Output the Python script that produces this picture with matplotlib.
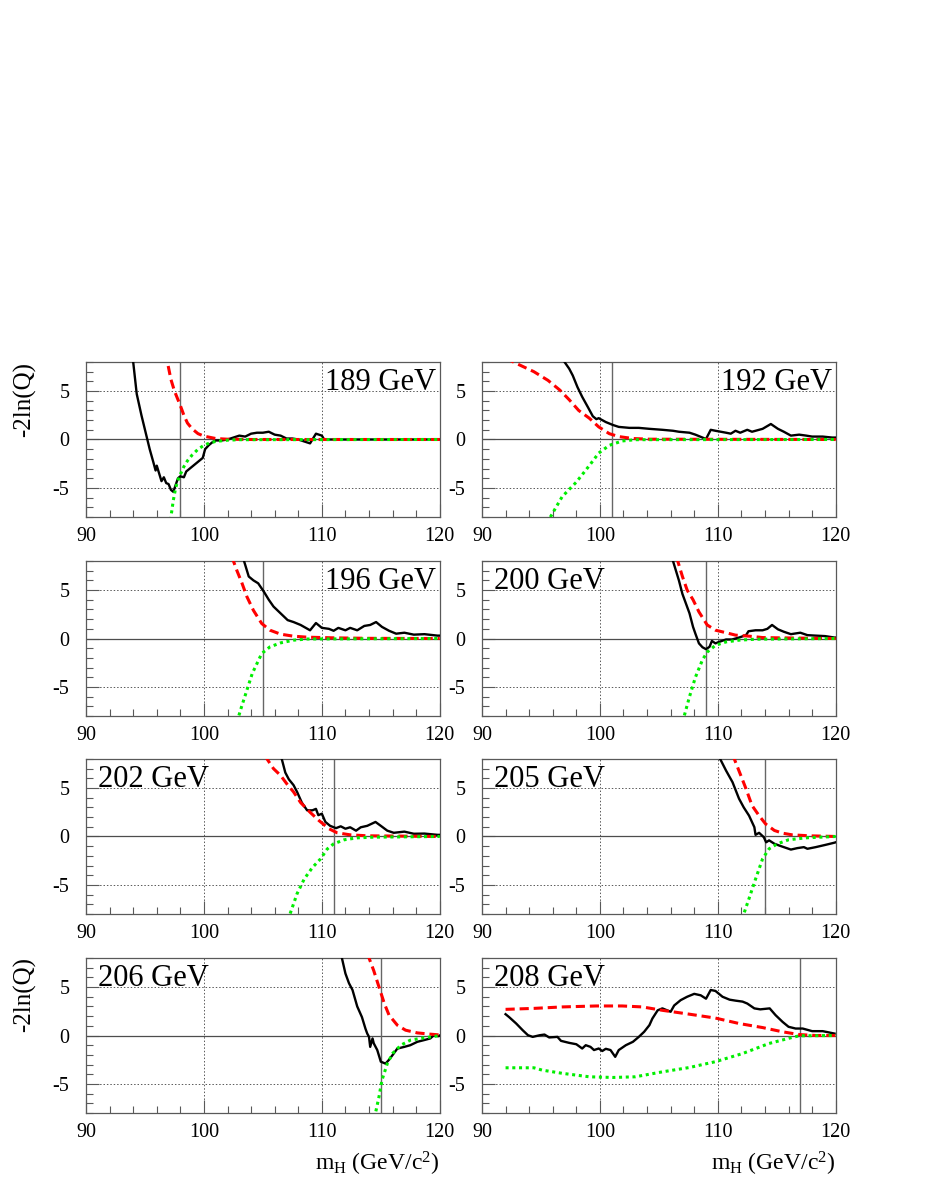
# %%
import numpy as np
import matplotlib.pyplot as plt
from matplotlib.ticker import MultipleLocator

# %%
# Data (mH in GeV, -2ln(Q))
# black = observed, red dashed = expected background, green dotted = expected signal+background

# 189 GeV
m_obs_189 = [93.9, 94.0, 94.3, 94.7, 95.0, 95.2, 95.4, 95.7, 95.9, 96.0, 96.2, 96.4, 96.6, 96.8, 97.0, 97.2,
             97.4, 97.6, 97.8, 98.0, 98.3, 98.5, 98.8, 99.2, 99.6, 99.9, 100.1, 100.4, 100.7, 101.0, 101.5,
             102.0, 102.5, 103.0, 103.5, 104.0, 104.5, 105.0, 105.5, 106.0, 106.5, 107.0, 107.5, 108.0,
             108.5, 109.0, 109.3, 109.5, 110.0, 110.2, 120.0]
q_obs_189 = [8.5, 8.0, 4.7, 2.5, 1.0, 0.0, -1.0, -2.3, -3.2, -2.7, -3.5, -4.3, -3.9, -4.5, -4.6, -5.2,
             -5.4, -4.7, -4.0, -3.8, -3.9, -3.3, -3.0, -2.6, -2.2, -1.9, -1.0, -0.6, -0.3, -0.1, -0.1,
             0.0, 0.2, 0.4, 0.3, 0.6, 0.7, 0.7, 0.8, 0.5, 0.4, 0.1, 0.1, 0.0,
             -0.2, -0.4, 0.2, 0.6, 0.4, 0.0, 0.0]
m_b_189 = [96.7, 96.9, 97.2, 97.5, 97.8, 98.0, 98.3, 98.6, 99.0, 99.5, 100.0, 101.0, 102.0, 104.0, 120.0]
q_b_189 = [9.0, 8.0, 6.2, 5.0, 4.1, 3.5, 2.5, 1.7, 1.1, 0.6, 0.35, 0.1, 0.03, 0.0, 0.0]
m_sb_189 = [97.1, 97.2, 97.4, 97.6, 97.8, 98.0, 98.3, 98.6, 99.0, 99.5, 100.0, 100.5, 101.0, 102.0, 103.0, 120.0]
q_sb_189 = [-9.0, -8.0, -6.3, -5.0, -4.2, -3.6, -2.8, -2.2, -1.6, -1.0, -0.6, -0.35, -0.2, -0.07, -0.02, 0.0]

# 192 GeV
m_obs_192 = [96.9, 97.0, 97.4, 97.7, 98.1, 98.5, 99.0, 99.4, 99.7, 99.9, 100.2, 100.5, 101.1, 101.6, 102.5,
             103.3, 104.2, 105.3, 106.2, 106.7, 107.6, 108.1, 108.7, 109.0, 109.4, 109.8, 110.7, 111.1,
             111.5, 111.9, 112.5, 112.9, 113.8, 114.5, 115.1, 115.6, 116.2, 116.9, 117.5, 118.0, 118.9,
             119.7, 120.0]
q_obs_192 = [8.5, 8.0, 7.3, 6.6, 5.4, 4.4, 3.3, 2.4, 2.1, 2.2, 2.0, 1.8, 1.5, 1.3, 1.2,
             1.2, 1.1, 1.0, 0.9, 0.8, 0.7, 0.5, 0.2, 0.05, 1.0, 0.9, 0.7, 0.6,
             0.9, 0.7, 1.0, 0.8, 1.1, 1.6, 1.1, 0.8, 0.4, 0.5, 0.4, 0.3, 0.3,
             0.2, 0.2]
m_b_192 = [92.0, 93.0, 94.4, 95.6, 96.6, 97.4, 98.2, 99.1, 99.9, 100.8, 101.6, 102.8, 104.2, 120.0]
q_b_192 = [8.4, 7.8, 7.0, 6.1, 5.1, 4.1, 3.0, 2.2, 1.3, 0.6, 0.3, 0.1, 0.03, 0.0]
m_sb_192 = [95.5, 95.8, 96.8, 98.0, 99.1, 99.9, 100.8, 101.9, 103.0, 120.0]
q_sb_192 = [-8.6, -8.0, -5.9, -4.4, -2.7, -1.4, -0.6, -0.15, -0.02, 0.0]

# 196 GeV
m_obs_196 = [103.3, 103.4, 103.65, 103.8, 104.2, 104.6, 105.1, 105.5, 105.9, 106.5, 107.1, 107.6, 108.2,
             109.0, 109.5, 110.0, 110.6, 111.0, 111.4, 112.0, 112.4, 113.0, 113.6, 114.1, 114.6, 115.1,
             115.7, 116.3, 117.0, 117.8, 118.7, 119.8, 120.0]
q_obs_196 = [8.5, 8.0, 7.0, 6.4, 6.0, 5.7, 4.8, 4.0, 3.3, 2.6, 1.9, 1.7, 1.4,
             0.85, 1.6, 1.1, 1.0, 0.8, 1.1, 0.85, 1.1, 0.85, 1.3, 1.4, 1.7, 1.2,
             0.8, 0.5, 0.6, 0.4, 0.45, 0.3, 0.3]
m_b_196 = [102.4, 102.5, 102.8, 103.2, 103.65, 104.2, 104.9, 105.6, 106.5, 107.6, 108.75, 111.0, 114.0, 120.0]
q_b_196 = [8.5, 8.0, 7.0, 5.8, 4.3, 2.9, 1.55, 0.86, 0.45, 0.24, 0.14, 0.07, 0.02, 0.0]
m_sb_196 = [102.8, 102.95, 103.2, 103.65, 104.1, 104.9, 105.6, 106.5, 107.6, 108.75, 120.0]
q_sb_196 = [-8.6, -8.0, -7.0, -5.3, -3.6, -1.55, -0.86, -0.45, -0.17, -0.05, 0.0]

# 200 GeV
m_obs_200 = [106.1, 106.2, 106.45, 106.7, 107.0, 107.3, 107.6, 107.9, 108.1, 108.4, 108.7, 109.0, 109.3,
             109.5, 109.8, 110.1, 110.7, 111.2, 111.8, 112.4, 112.6, 113.2, 113.8, 114.2, 114.6, 115.1,
             115.6, 116.2, 117.0, 117.6, 118.3, 119.1, 119.9, 120.0]
q_obs_200 = [8.5, 8.0, 7.0, 6.0, 4.6, 3.6, 2.6, 1.2, 0.5, -0.5, -0.9, -1.1, -0.85,
             -0.25, -0.5, -0.35, -0.1, -0.1, 0.1, 0.35, 0.75, 0.85, 0.85, 1.0, 1.4, 0.95,
             0.7, 0.45, 0.6, 0.35, 0.3, 0.25, 0.1, 0.1]
m_b_200 = [106.5, 106.6, 107.0, 107.4, 107.9, 108.4, 109.1, 109.8, 110.7, 111.5, 112.6, 113.8, 115.2, 120.0]
q_b_200 = [8.4, 8.0, 6.4, 5.0, 4.0, 2.75, 1.4, 0.86, 0.6, 0.35, 0.25, 0.1, 0.07, 0.0]
m_sb_200 = [107.0, 107.15, 107.6, 108.1, 108.7, 109.1, 109.8, 110.7, 111.8, 113.2, 120.0]
q_sb_200 = [-8.6, -8.0, -6.0, -4.0, -2.2, -1.4, -0.7, -0.35, -0.17, -0.07, 0.0]

# 202 GeV
m_obs_202 = [106.5, 106.6, 106.9, 107.2, 107.6, 107.9, 108.3, 108.75, 109.2, 109.5, 109.7, 110.0, 110.3,
             110.7, 111.2, 111.6, 112.0, 112.4, 112.9, 113.3, 113.85, 114.55, 115.0, 115.55, 116.1,
             117.0, 117.8, 118.7, 119.8, 120.0]
q_obs_202 = [8.5, 8.0, 6.6, 5.9, 5.3, 4.6, 3.5, 2.7, 2.7, 2.85, 2.2, 2.35, 1.5,
             1.1, 0.86, 1.05, 0.8, 0.95, 0.6, 0.95, 1.1, 1.5, 1.1, 0.6, 0.38,
             0.5, 0.28, 0.3, 0.17, 0.17]
m_b_202 = [105.2, 105.35, 105.9, 106.5, 107.05, 107.6, 108.2, 109.0, 109.75, 110.6, 111.3, 112.4, 113.85, 120.0]
q_b_202 = [8.4, 8.0, 7.0, 6.3, 5.4, 4.6, 3.5, 2.5, 1.65, 0.8, 0.38, 0.17, 0.07, 0.0]
m_sb_202 = [107.1, 107.3, 107.9, 108.5, 109.2, 109.9, 110.45, 111.0, 111.9, 113.0, 114.4, 120.0]
q_sb_202 = [-8.6, -8.0, -5.9, -4.4, -3.2, -2.3, -1.3, -0.76, -0.34, -0.14, -0.07, 0.0]

# 205 GeV
m_obs_205 = [110.1, 110.2, 110.7, 111.25, 111.8, 112.2, 112.65, 113.1, 113.2, 113.5, 113.9, 114.1, 114.35,
             114.8, 115.2, 115.6, 116.2, 116.75, 117.3, 117.6, 118.3, 119.15, 119.86, 120.0]
q_obs_205 = [8.5, 8.0, 6.8, 5.6, 3.9, 3.0, 2.15, 0.96, 0.17, 0.38, -0.07, -0.6, -0.4,
             -0.75, -0.93, -1.1, -1.35, -1.2, -1.1, -1.27, -1.1, -0.86, -0.65, -0.6]
m_b_205 = [111.3, 111.4, 111.95, 112.4, 112.9, 113.5, 114.05, 114.8, 115.5, 116.3, 117.75, 120.0]
q_b_205 = [8.5, 8.0, 6.3, 4.9, 3.2, 2.15, 1.3, 0.62, 0.34, 0.17, 0.07, 0.0]
m_sb_205 = [112.1, 112.2, 112.65, 113.2, 113.8, 114.35, 115.05, 116.0, 117.45, 120.0]
q_sb_205 = [-8.5, -8.0, -6.4, -4.4, -2.3, -1.27, -0.76, -0.34, -0.14, 0.0]

# 206 GeV
m_obs_206 = [111.6, 111.7, 112.0, 112.3, 112.6, 113.0, 113.4, 113.7, 113.85, 114.0, 114.1, 114.3, 114.4,
             114.7, 115.0, 115.4, 115.7, 116.1, 116.4, 117.0, 117.5, 118.1, 118.65, 119.2, 119.5,
             119.9, 120.0]
q_obs_206 = [8.5, 8.0, 6.4, 5.4, 4.7, 3.0, 1.9, 0.7, 0.2, -0.14, -1.17, -0.3, -0.8,
             -1.5, -2.7, -2.9, -2.5, -1.85, -1.35, -1.17, -1.0, -0.65, -0.48, -0.3, 0.03,
             -0.07, 0.0]
m_b_206 = [113.9, 114.0, 114.4, 114.85, 115.3, 115.7, 116.4, 117.1, 118.1, 119.2, 119.9, 120.0]
q_b_206 = [8.5, 8.0, 6.7, 5.0, 3.3, 2.1, 1.07, 0.55, 0.27, 0.14, 0.07, 0.06]
m_sb_206 = [114.45, 114.55, 114.85, 115.1, 115.55, 116.0, 116.7, 117.5, 118.65, 119.9, 120.0]
q_sb_206 = [-8.5, -8.0, -6.3, -4.6, -2.9, -1.85, -1.0, -0.48, -0.24, -0.03, 0.0]

# 208 GeV
m_obs_208 = [92.0, 92.3, 92.9, 93.45, 93.9, 94.3, 94.9, 95.3, 95.7, 96.4, 96.7, 97.4, 98.0, 98.5, 98.8,
             99.2, 99.5, 99.9, 100.2, 100.5, 100.9, 101.3, 101.6, 102.2, 102.8, 103.3, 103.75, 104.2,
             104.45, 104.9, 105.3, 105.7, 106.0, 106.3, 106.85, 107.4, 108.0, 108.55, 109.0, 109.4,
             109.8, 110.4, 111.0, 111.5, 112.1, 112.5, 113.1, 113.6, 114.4, 114.9, 115.5, 116.0,
             116.6, 117.2, 118.0, 118.9, 119.9]
q_obs_208 = [2.2, 1.9, 1.24, 0.55, 0.03, -0.14, 0.03, 0.1, -0.2, -0.14, -0.55, -0.76, -0.9, -1.34, -1.0,
             -1.17, -1.5, -1.34, -1.6, -1.37, -1.5, -2.2, -1.5, -1.0, -0.65, -0.14, 0.38, 1.07,
             1.75, 2.6, 2.8, 2.6, 2.45, 3.1, 3.65, 4.0, 4.3, 4.15, 3.8, 4.7,
             4.6, 4.0, 3.7, 3.6, 3.5, 3.3, 2.8, 2.7, 2.8, 2.1, 1.4, 0.9,
             0.72, 0.72, 0.45, 0.45, 0.2]
m_b_208 = [92.0, 94.4, 96.8, 99.7, 101.9, 103.6, 105.3, 107.6, 109.8, 111.8, 113.8, 115.5, 116.9, 118.3, 120.0]
q_b_208 = [2.7, 2.8, 2.95, 3.05, 3.05, 2.95, 2.6, 2.2, 1.8, 1.24, 0.82, 0.38, 0.1, 0.0, 0.0]
m_sb_208 = [92.0, 94.4, 95.1, 96.8, 99.1, 101.1, 103.0, 105.3, 107.6, 109.8, 112.1, 114.35, 116.3, 116.9, 120.0]
q_sb_208 = [-3.33, -3.33, -3.57, -3.9, -4.26, -4.33, -4.26, -3.75, -3.3, -2.7, -1.86, -0.82, -0.2, -0.03, 0.0]

# panel labels, fitted mass marker, label corner
energies = ['189 GeV', '192 GeV', '196 GeV', '200 GeV', '202 GeV', '205 GeV', '206 GeV', '208 GeV']
m_marker = [98.0, 101.0, 105.0, 109.0, 111.0, 114.0, 115.0, 117.0]
label_right = [True, True, True, False, False, False, False, False]

obs = [(m_obs_189, q_obs_189), (m_obs_192, q_obs_192), (m_obs_196, q_obs_196), (m_obs_200, q_obs_200),
       (m_obs_202, q_obs_202), (m_obs_205, q_obs_205), (m_obs_206, q_obs_206), (m_obs_208, q_obs_208)]
exp_b = [(m_b_189, q_b_189), (m_b_192, q_b_192), (m_b_196, q_b_196), (m_b_200, q_b_200),
         (m_b_202, q_b_202), (m_b_205, q_b_205), (m_b_206, q_b_206), (m_b_208, q_b_208)]
exp_sb = [(m_sb_189, q_sb_189), (m_sb_192, q_sb_192), (m_sb_196, q_sb_196), (m_sb_200, q_sb_200),
          (m_sb_202, q_sb_202), (m_sb_205, q_sb_205), (m_sb_206, q_sb_206), (m_sb_208, q_sb_208)]

# %%
plt.rcParams['font.family'] = ['Liberation Serif', 'DejaVu Serif']
plt.rcParams['mathtext.default'] = 'regular'
plt.rcParams['axes.unicode_minus'] = False

fig = plt.figure(figsize=(9.26, 11.99), dpi=100)

# axes positions in figure fractions (left, right column / 4 rows)
lefts = [0.0929, 0.5205]
bottoms = [0.5688, 0.4028, 0.2377, 0.0717]
w, h = 0.382, 0.1293

frame_col = '0.35'

for i in range(8):
    row, col = divmod(i, 2)
    ax = fig.add_axes([lefts[col], bottoms[row], w, h])

    ax.plot(*obs[i], color='black', lw=1.7, zorder=3)
    ax.plot(*exp_b[i], color='red', lw=2.2, dashes=(3, 1.6), zorder=4)
    ax.plot(*exp_sb[i], color='#00ee00', lw=2.2, dashes=(1, 1.2), zorder=5)

    ax.axhline(0, color='0.3', lw=0.9, zorder=2)
    ax.axvline(m_marker[i], color='0.4', lw=1.0, zorder=2)

    ax.set_xlim(90, 120)
    ax.set_ylim(-8, 8)
    ax.xaxis.set_major_locator(MultipleLocator(10))
    ax.xaxis.set_minor_locator(MultipleLocator(2))
    ax.yaxis.set_major_locator(MultipleLocator(5))
    ax.yaxis.set_minor_locator(MultipleLocator(1))
    ax.grid(True, which='major', ls=(0, (1.5, 2)), color='0.35', lw=0.7, zorder=1)

    ax.tick_params(which='both', direction='in', colors=frame_col, labelcolor='black',
                   labelsize=14.5, top=False, right=False)
    ax.tick_params(axis='y', which='major', length=9.5, width=0.8, pad=12)
    ax.tick_params(axis='y', which='minor', length=5, width=0.8)
    ax.tick_params(axis='x', which='major', length=9.5, width=0.8, pad=7)
    ax.tick_params(axis='x', which='minor', length=5, width=0.8)
    for s in ax.spines.values():
        s.set_color(frame_col)
        s.set_linewidth(0.9)

    if label_right[i]:
        ax.text(0.99, 0.96, energies[i], transform=ax.transAxes, ha='right', va='top', fontsize=22)
    else:
        ax.text(0.035, 0.96, energies[i], transform=ax.transAxes, ha='left', va='top', fontsize=22)

    if row == 3:
        ax.text(1.0, -0.24, r'm$_H$ (GeV/c$^2$)', transform=ax.transAxes,
                ha='right', va='top', fontsize=17)

# y axis title, top aligned like the original
fig.text(25 / 926, 1 - 362 / 1199, '-2ln(Q)', rotation=90, ha='center', va='top', fontsize=18)
fig.text(25 / 926, 1 - 957 / 1199, '-2ln(Q)', rotation=90, ha='center', va='top', fontsize=18)

fig.savefig('out.png', dpi=100)
